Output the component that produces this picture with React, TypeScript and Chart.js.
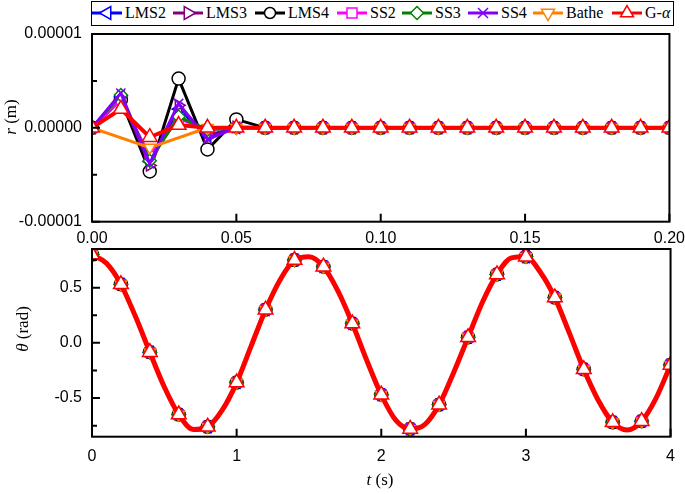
import { useEffect, useRef } from "react";
import { Chart, registerables } from "chart.js";
Chart.register(...registerables);

// ---------- data ----------
const METHOD_NAMES = ["LMS2", "LMS3", "LMS4", "SS2", "SS3", "SS4", "Bathe", "G-α"];

// top panel: r (m) vs t (s)
const R_TIME = [0, 0.01, 0.02, 0.03, 0.04, 0.05, 0.06, 0.07, 0.08, 0.09, 0.1, 0.11, 0.12, 0.13, 0.14, 0.15, 0.16, 0.17, 0.18, 0.19, 0.2];
const R_LMS2 = [0, 3.3e-6, -3.6e-6, 2.0e-6, -0.8e-6, 0, 0, 0, 0, 0, 0, 0, 0, 0, 0, 0, 0, 0, 0, 0, 0];
const R_LMS3 = [0, 3.4e-6, -4.0e-6, 2.4e-6, -1.0e-6, 0.1e-6, 0, 0, 0, 0, 0, 0, 0, 0, 0, 0, 0, 0, 0, 0, 0];
const R_LMS4 = [0, 3.0e-6, -4.65e-6, 5.25e-6, -2.3e-6, 0.9e-6, 0, 0, 0, 0, 0, 0, 0, 0, 0, 0, 0, 0, 0, 0, 0];
const R_SS2 = [0, 3.0e-6, -3.0e-6, 1.0e-6, -0.2e-6, 0, 0, 0, 0, 0, 0, 0, 0, 0, 0, 0, 0, 0, 0, 0, 0];
const R_SS3 = [0, 3.5e-6, -3.5e-6, 1.2e-6, -0.2e-6, 0, 0, 0, 0, 0, 0, 0, 0, 0, 0, 0, 0, 0, 0, 0, 0];
const R_SS4 = [0, 3.7e-6, -3.8e-6, 2.6e-6, -1.2e-6, 0, 0, 0, 0, 0, 0, 0, 0, 0, 0, 0, 0, 0, 0, 0, 0];
const R_BATHE = [0, null, -2.1e-6, null, 0, 0, 0, 0, 0, 0, 0, 0, 0, 0, 0, 0, 0, 0, 0, 0, 0];
const R_GALPHA = [0, 2.0e-6, -1.0e-6, 0.3e-6, 0, 0, 0, 0, 0, 0, 0, 0, 0, 0, 0, 0, 0, 0, 0, 0, 0];
const R_SERIES = [R_LMS2, R_LMS3, R_LMS4, R_SS2, R_SS3, R_SS4, R_BATHE, R_GALPHA];

// bottom panel: theta (rad) vs t (s); markers every second sample (0.2 s)
const TH_TIME = [0, 0.1, 0.2, 0.3, 0.4, 0.5, 0.6, 0.7, 0.8, 0.9, 1.0, 1.1, 1.2, 1.3, 1.4, 1.5, 1.6, 1.7, 1.8, 1.9, 2.0, 2.1, 2.2, 2.3, 2.4, 2.5, 2.6, 2.7, 2.8, 2.9, 3.0, 3.1, 3.2, 3.3, 3.4, 3.5, 3.6, 3.7, 3.8, 3.9, 4.0];
const TH_VALUES = [0.8, 0.72, 0.53, 0.24, -0.085, -0.4, -0.65, -0.785, -0.76, -0.61, -0.36, -0.03, 0.3, 0.57, 0.75, 0.78, 0.69, 0.47, 0.175, -0.16, -0.47, -0.7, -0.78, -0.74, -0.56, -0.27, 0.05, 0.37, 0.62, 0.77, 0.78, 0.64, 0.41, 0.09, -0.24, -0.52, -0.72, -0.79, -0.71, -0.5, -0.2];

const R_X_TICKS = [0, 0.05, 0.1, 0.15, 0.2];
const R_Y_TICKS = [-1e-5, 0, 1e-5];
const R_Y_MINOR = [-5e-6, 5e-6];
const TH_X_TICKS = [0, 1, 2, 3, 4];
const TH_Y_TICKS = [-0.5, 0, 0.5];
const TH_Y_MINOR = [-0.75, -0.25, 0.25, 0.75];

// ---------- styles ----------
const COLORS = ["#0000FF", "#800080", "#000000", "#FF00FF", "#008000", "#8000FF", "#FF8000", "#FF0000"];
const POINT_STYLES = ["triangle", "triangle", "circle", "rect", "rectRot", "crossRot", "triangle", "triangle"];
const ROTATIONS = [270, 90, 0, 0, 0, 0, 180, 0];
const ORDERS = [6, 5, 7, 4, 3, 2, 1, 0];
const LEGEND_X = [0, 81, 163, 245, 310, 376, 441, 520];

const SANS = "'Liberation Sans', Arial, sans-serif";
const SERIF = "'Liberation Serif', 'Times New Roman', serif";

type Part = { t: string; i: boolean };
type Title = { parts: Part[]; x: number; y: number; rot: boolean };

function drawTitle(ctx: CanvasRenderingContext2D, tt: Title) {
  ctx.save();
  ctx.translate(tt.x, tt.y);
  if (tt.rot) ctx.rotate(-Math.PI / 2);
  ctx.fillStyle = "#000";
  ctx.textBaseline = "middle";
  ctx.textAlign = "left";
  let total = 0;
  const widths = tt.parts.map((p) => {
    ctx.font = `${p.i ? "italic " : ""}17px ${SERIF}`;
    const w = ctx.measureText(p.t).width;
    total += w;
    return w;
  });
  let x = -total / 2;
  tt.parts.forEach((p, k) => {
    ctx.font = `${p.i ? "italic " : ""}17px ${SERIF}`;
    ctx.fillText(p.t, x, 0);
    x += widths[k];
  });
  ctx.restore();
}

function framePlugin(xMajor: number[], yMajor: number[], yMinor: number[], titles: Title[]) {
  return {
    id: "frame",
    afterDraw(chart: any) {
      const { ctx, chartArea: a, scales } = chart;
      ctx.save();
      ctx.strokeStyle = "#000";
      ctx.lineWidth = 2;
      ctx.strokeRect(a.left, a.top, a.right - a.left, a.bottom - a.top);
      ctx.beginPath();
      xMajor.forEach((v) => {
        const px = scales.x.getPixelForValue(v);
        ctx.moveTo(px, a.bottom);
        ctx.lineTo(px, a.bottom - 8);
      });
      yMajor.forEach((v) => {
        const py = scales.y.getPixelForValue(v);
        ctx.moveTo(a.left, py);
        ctx.lineTo(a.left + 8, py);
      });
      yMinor.forEach((v) => {
        const py = scales.y.getPixelForValue(v);
        ctx.moveTo(a.left, py);
        ctx.lineTo(a.left + 5, py);
      });
      ctx.stroke();
      ctx.restore();
      titles.forEach((tt) => drawTitle(ctx, tt));
    },
  };
}

function scaleOpts(min: number, max: number, ticks: number[], fmt: (v: number) => string, fit: (s: any) => void, pad: number) {
  return {
    type: "linear" as const,
    min,
    max,
    afterFit: fit,
    afterBuildTicks: (s: any) => {
      s.ticks = ticks.map((v) => ({ value: v }));
    },
    grid: { display: false, drawTicks: false },
    border: { display: false },
    ticks: {
      padding: pad,
      color: "#000",
      font: { family: SANS, size: 16 },
      maxRotation: 0,
      callback: (v: any) => fmt(Number(v)),
    },
  };
}

function pointRadiusFor(k: number) {
  if (k === 7) return 8.5;
  return 6.5;
}

export default function App() {
  const topRef = useRef<HTMLCanvasElement>(null);
  const botRef = useRef<HTMLCanvasElement>(null);

  useEffect(() => {
    const topDatasets = METHOD_NAMES.map((name, k) => ({
      label: name,
      data: R_TIME.map((t, i) => ({ x: t, y: R_SERIES[k][i] })),
      borderColor: COLORS[k],
      borderWidth: k === 7 ? 4 : 3,
      pointStyle: POINT_STYLES[k] as any,
      rotation: ROTATIONS[k],
      pointRadius: pointRadiusFor(k),
      pointBorderColor: COLORS[k],
      pointBackgroundColor: "#FFFFFF",
      pointBorderWidth: 1.5,
      tension: 0,
      spanGaps: true,
      order: ORDERS[k],
      clip: 0,
    }));
    const top = new Chart(topRef.current!, {
      type: "line",
      data: { datasets: topDatasets as any },
      options: {
        responsive: false,
        animation: false,
        events: [],
        layout: { padding: { left: 0, right: 10, top: 34, bottom: 494 - 221.7 - 30 } },
        plugins: { legend: { display: false }, tooltip: { enabled: false } },
        scales: {
          x: scaleOpts(0, 0.2, R_X_TICKS, (v) => v.toFixed(2), (s: any) => { s.height = 30; }, 7) as any,
          y: scaleOpts(-1e-5, 1e-5, R_Y_TICKS, (v) => v.toFixed(5), (s: any) => { s.width = 92; }, 10) as any,
        },
      },
      plugins: [
        framePlugin(R_X_TICKS, R_Y_TICKS, R_Y_MINOR, [
          { parts: [{ t: "r", i: true }, { t: " (m)", i: false }], x: 12, y: 117, rot: true },
        ]),
      ],
    });

    const botDatasets = METHOD_NAMES.map((name, k) => ({
      label: name,
      data: TH_TIME.map((t, i) => ({ x: t, y: TH_VALUES[i] })),
      borderColor: COLORS[k],
      borderWidth: k === 7 ? 5 : 2.5,
      pointStyle: POINT_STYLES[k] as any,
      rotation: ROTATIONS[k],
      pointRadius: (c: any) => (c.dataIndex % 2 === 0 ? pointRadiusFor(k) : 0),
      pointBorderColor: COLORS[k],
      pointBackgroundColor: "#FFFFFF",
      pointBorderWidth: 1.5,
      cubicInterpolationMode: "monotone",
      order: ORDERS[k],
      clip: 0,
    }));
    const bot = new Chart(botRef.current!, {
      type: "line",
      data: { datasets: botDatasets as any },
      options: {
        responsive: false,
        animation: false,
        events: [],
        layout: { padding: { left: 0, right: 10, top: 249, bottom: 494 - 436.7 - 40 } },
        plugins: { legend: { display: false }, tooltip: { enabled: false } },
        scales: {
          x: scaleOpts(0, 4, TH_X_TICKS, (v) => v.toFixed(0), (s: any) => { s.height = 40; }, 10) as any,
          y: scaleOpts(-0.85, 0.85, TH_Y_TICKS, (v) => v.toFixed(1), (s: any) => { s.width = 92; }, 10) as any,
        },
      },
      plugins: [
        framePlugin(TH_X_TICKS, TH_Y_TICKS, TH_Y_MINOR, [
          { parts: [{ t: "θ", i: true }, { t: " (rad)", i: false }], x: 23.5, y: 329, rot: true },
          { parts: [{ t: "t", i: true }, { t: " (s)", i: false }], x: 380, y: 481, rot: false },
        ]),
      ],
    });
    return () => {
      top.destroy();
      bot.destroy();
    };
  }, []);

  const marker = (k: number) => {
    const c = COLORS[k];
    const cx = 15, cy = 9, r = 7.5;
    const common = { fill: "#fff", stroke: c, strokeWidth: 1.5 };
    const tri = (rotDeg: number) => {
      const pts = [0, 120, 240].map((d) => {
        const a = ((d + rotDeg) * Math.PI) / 180;
        return `${cx + Math.sin(a) * r},${cy - Math.cos(a) * r}`;
      });
      return <polygon points={pts.join(" ")} {...common} />;
    };
    switch (POINT_STYLES[k]) {
      case "triangle":
        return tri(ROTATIONS[k]);
      case "circle":
        return <circle cx={cx} cy={cy} r={5.5} {...common} />;
      case "rect":
        return <rect x={cx - 5} y={cy - 5} width={10} height={10} {...common} />;
      case "rectRot":
        return <polygon points={`${cx},${cy - 6.5} ${cx + 6.5},${cy} ${cx},${cy + 6.5} ${cx - 6.5},${cy}`} {...common} />;
      default:
        return (
          <path d={`M${cx - 5},${cy - 5}L${cx + 5},${cy + 5}M${cx + 5},${cy - 5}L${cx - 5},${cy + 5}`} stroke={c} strokeWidth={1.5} />
        );
    }
  };

  return (
    <div style={{ position: "absolute", left: 0, top: 0, width: 685, height: 494, background: "#fff", overflow: "hidden" }}>
      <canvas ref={topRef} width={692} height={494} style={{ position: "absolute", left: 0, top: 0, width: 692, height: 494 }} />
      <canvas ref={botRef} width={685} height={494} style={{ position: "absolute", left: 0, top: 0, width: 685, height: 494 }} />
      <div
        style={{
          position: "absolute",
          left: 91,
          top: 1,
          width: 583,
          height: 25,
          border: "1.5px solid #000",
          boxSizing: "border-box",
          background: "#fff",
          fontFamily: SERIF,
          fontSize: 16,
          color: "#000",
        }}
      >
        {METHOD_NAMES.map((name, k) => (
          <div key={name} style={{ position: "absolute", left: LEGEND_X[k], top: 2, height: 18, display: "flex", alignItems: "center", whiteSpace: "nowrap" }}>
            <svg width={30} height={18} style={{ display: "block" }}>
              <line x1={0} y1={9} x2={30} y2={9} stroke={COLORS[k]} strokeWidth={3} />
              {marker(k)}
            </svg>
            <span style={{ marginLeft: 3, lineHeight: "18px" }}>
              {name === "G-α" ? (
                <>
                  G-<i>α</i>
                </>
              ) : (
                name
              )}
            </span>
          </div>
        ))}
      </div>
    </div>
  );
}
